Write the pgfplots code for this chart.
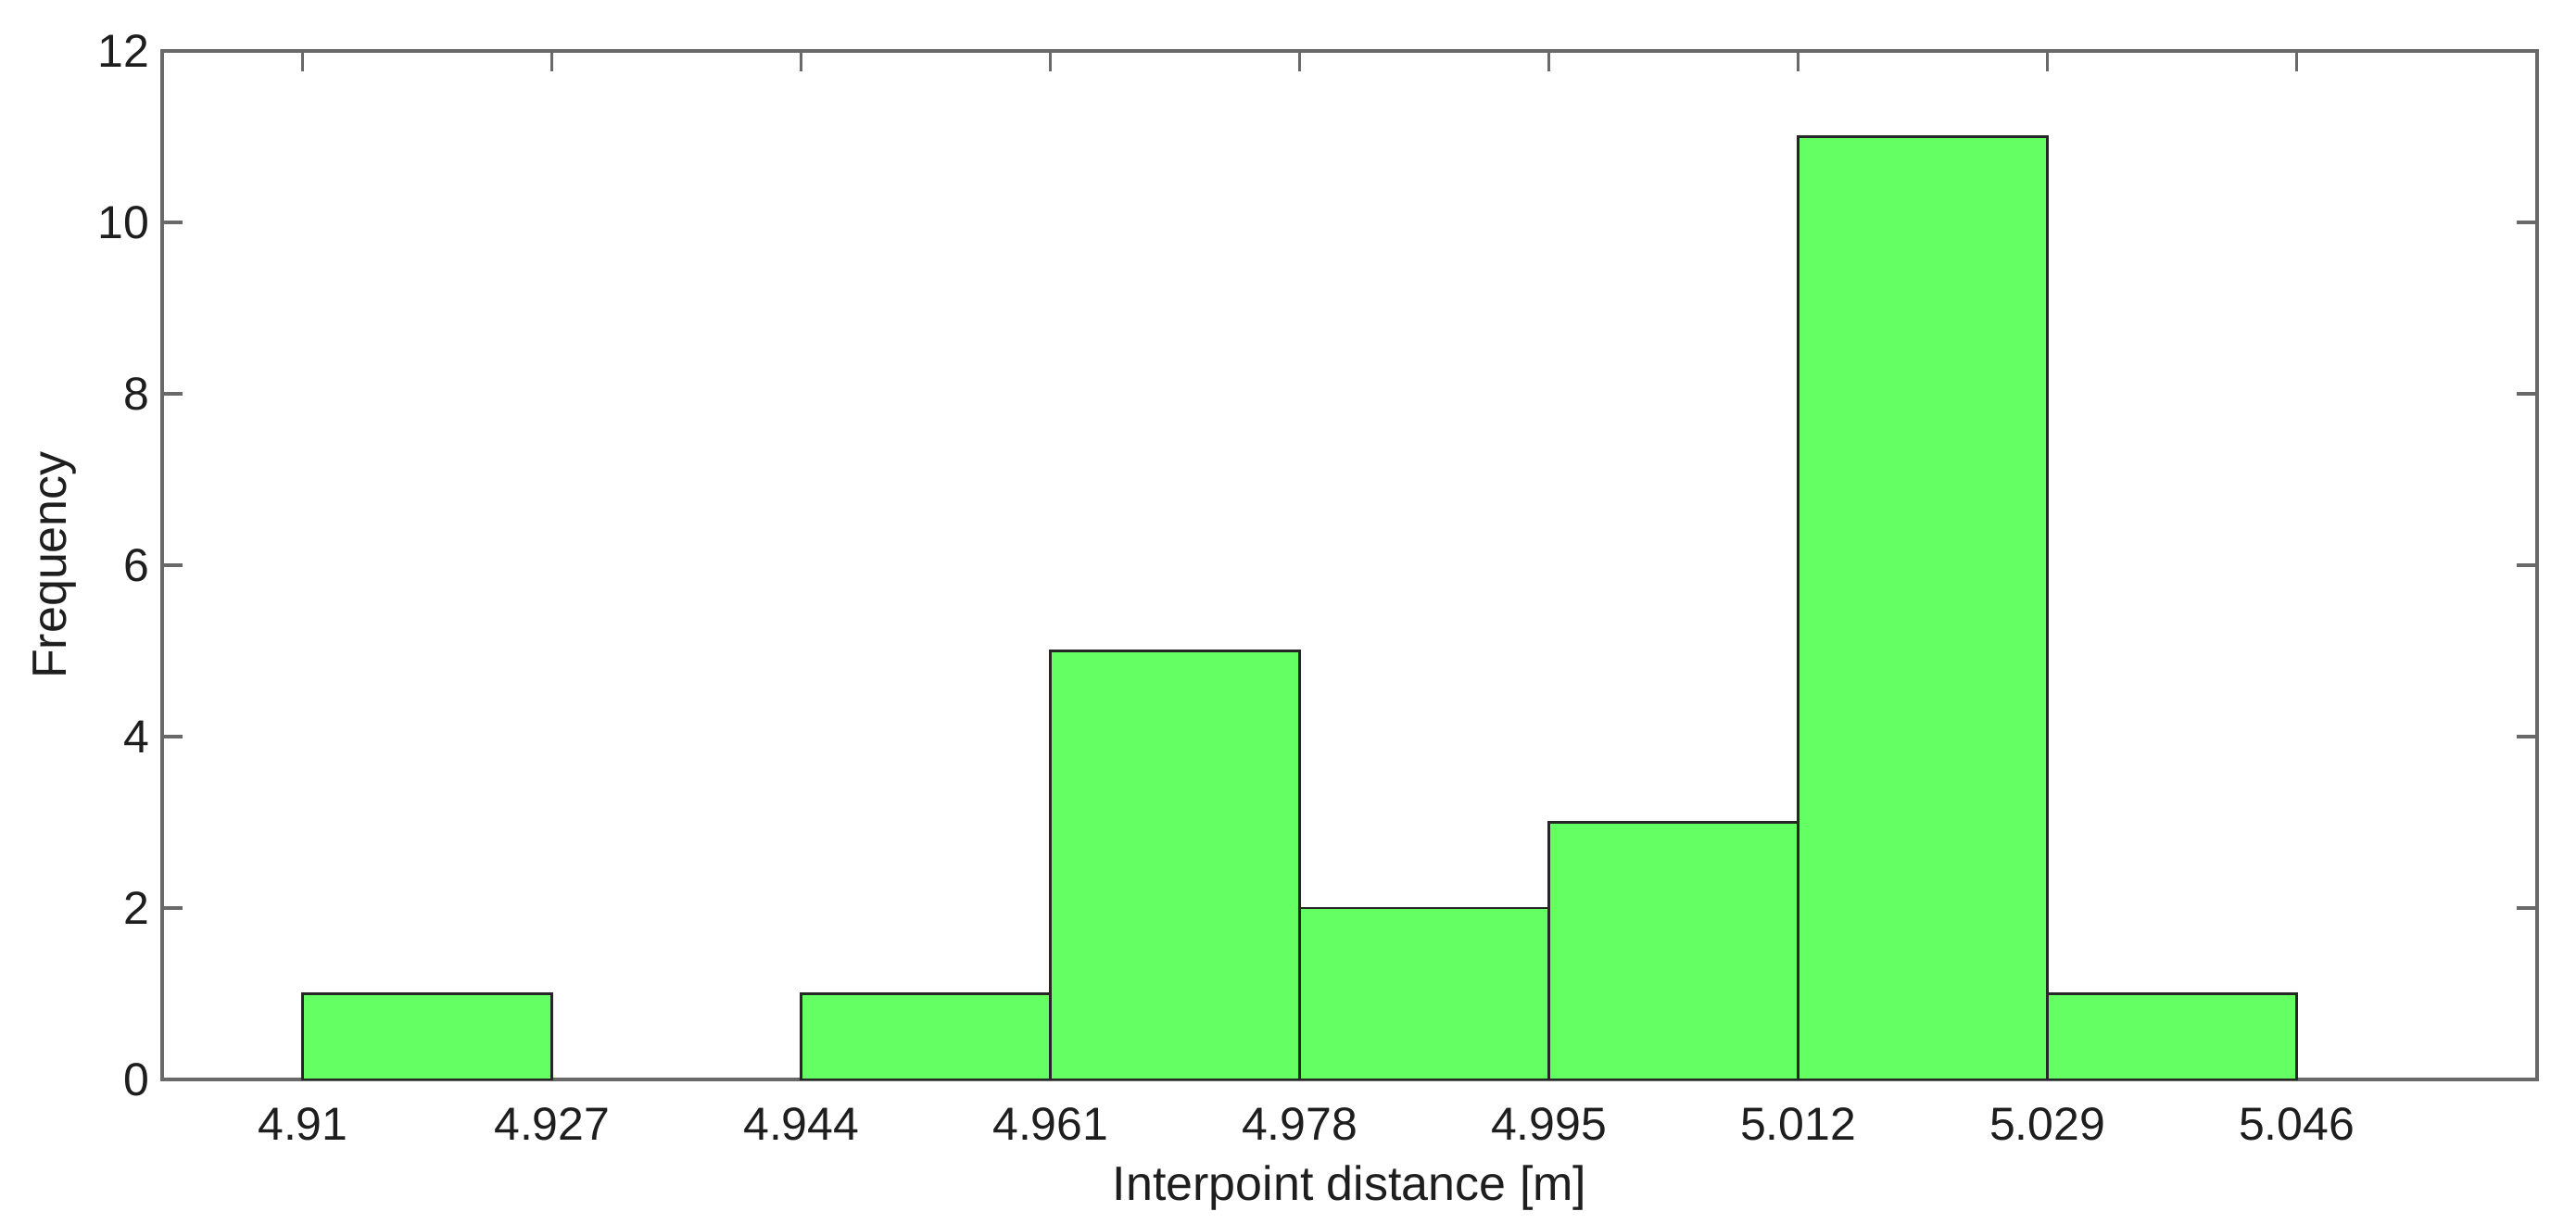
\documentclass[border=0pt]{standalone}
\usepackage{pgfplots}
\pgfplotsset{compat=1.18}
\usepackage{fontspec}
\setmainfont{Liberation Sans}

\definecolor{histgreen}{RGB}{99,255,99}
\definecolor{axisgray}{RGB}{105,105,105}
\definecolor{txt}{RGB}{30,30,30}

\begin{document}
\begin{tikzpicture}
\begin{axis}[
    scale only axis,
    width=640.75pt,
    height=277.5pt,
    xmin=4.9004, xmax=5.0624,
    ymin=0, ymax=12,
    xtick={4.91,4.927,4.944,4.961,4.978,4.995,5.012,5.029,5.046},
    xticklabels={4.91,4.927,4.944,4.961,4.978,4.995,5.012,5.029,5.046},
    ytick={0,2,...,12},
    tick align=inside,
    tick pos=both,
    major tick length=5.5pt,
    axis line style={draw=axisgray, line width=0.8pt},
    every tick/.style={draw=axisgray, line width=0.8pt},
    /pgf/number format/assume math mode=true,
    ticklabel style={font=\fontsize{12.5}{15}\selectfont, text=txt},
    xticklabel style={yshift=-4pt},
    xlabel={Interpoint distance [m]},
    ylabel={Frequency},
    every axis x label/.style={at={(axis description cs:0.5,-0.105)}, anchor=center, font=\fontsize{13}{15}\selectfont, text=txt},
    every axis y label/.style={at={(axis description cs:-0.0453,0.5)}, rotate=90, anchor=center, font=\fontsize{13}{15}\selectfont, text=txt},
    clip=false,
]
% histogram counts (bin 4.927-4.944 is empty)
\addplot[ybar interval, fill=histgreen, draw=black!85, line width=0.7pt] coordinates {
    (4.910, 1)
    (4.927, 1)
};
\addplot[ybar interval, fill=histgreen, draw=black!85, line width=0.7pt] coordinates {
    (4.944, 1)
    (4.961, 5)
    (4.978, 2)
    (4.995, 3)
    (5.012, 11)
    (5.029, 1)
    (5.046, 1)
};
\coordinate (bl) at (rel axis cs:0,0);
\coordinate (tr) at (rel axis cs:1,1);
\end{axis}
\path[use as bounding box] ([shift={(-43.75pt,-38.75pt)}]bl) rectangle ([shift={(10.5pt,13.75pt)}]tr);
\end{tikzpicture}
\end{document}
